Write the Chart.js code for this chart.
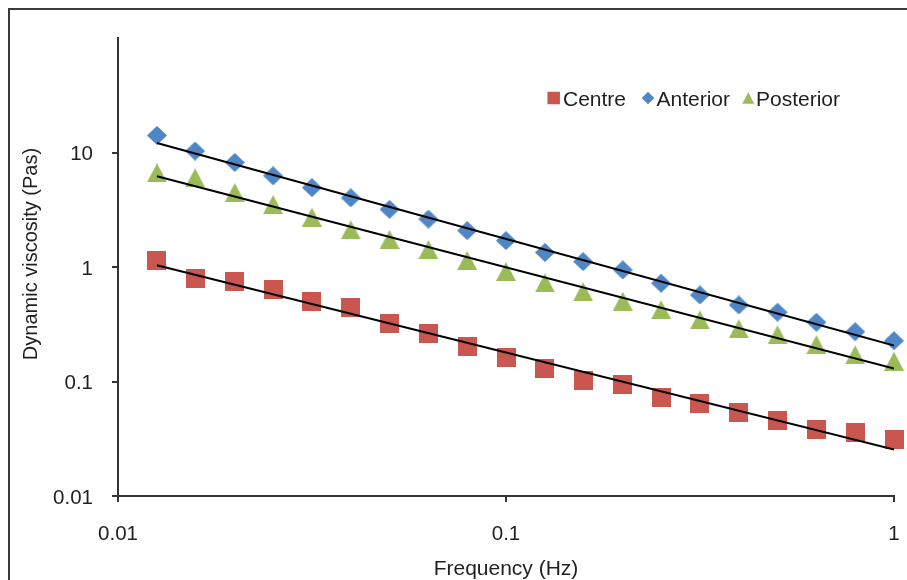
<!DOCTYPE html>
<html>
<head>
<meta charset="utf-8">
<script src="https://cdn.jsdelivr.net/npm/chart.js@4"></script>
<style>
  html, body { margin: 0; padding: 0; background: #fff; }
  canvas { display: block; }
</style>
</head>
<body>
<canvas id="viscosityChart" width="907" height="580"></canvas>
<script>
// ==============================
//  data
// ==============================
const frequency = [0.0126, 0.0158, 0.02, 0.0251, 0.0316, 0.0398, 0.0501, 0.0631, 0.0794, 0.1,
                   0.126, 0.158, 0.2, 0.251, 0.316, 0.398, 0.501, 0.631, 0.794, 1];
const centre    = [1.15, 0.80, 0.745, 0.63, 0.50, 0.44, 0.318, 0.264, 0.204, 0.161,
                   0.130, 0.103, 0.095, 0.073, 0.0645, 0.0534, 0.0461, 0.0382, 0.0357, 0.0314];
const anterior  = [14.1, 10.3, 8.18, 6.26, 4.94, 4.02, 3.19, 2.62, 2.08, 1.70,
                   1.34, 1.115, 0.943, 0.722, 0.570, 0.466, 0.403, 0.329, 0.272, 0.227];
const posterior = [6.65, 6.01, 4.47, 3.51, 2.72, 2.11, 1.74, 1.42, 1.14, 0.912,
                   0.726, 0.609, 0.502, 0.424, 0.345, 0.289, 0.256, 0.210, 0.171, 0.150];

const seriesNames = ["Centre", "Anterior", "Posterior"];
const xTicks = [0.01, 0.1, 1];
const yTicks = [0.01, 0.1, 1, 10];

const RED = "#C9564F";
const BLUE = "#4F86C6";
const GREEN = "#9BBB59";
const AXIS = "#333333";
const FONT = "'Liberation Sans', Arial, sans-serif";

// ==============================
//  helpers
// ==============================

// power-law fit (least squares in log-log), returns the two end points
const powerTrend = (xs, ys) => {
  const lx = xs.map(Math.log10), ly = ys.map(Math.log10);
  const n = lx.length;
  const mx = lx.reduce((a, b) => a + b, 0) / n;
  const my = ly.reduce((a, b) => a + b, 0) / n;
  let sxy = 0, sxx = 0;
  for (let i = 0; i < n; i++) {
    sxy += (lx[i] - mx) * (ly[i] - my);
    sxx += (lx[i] - mx) ** 2;
  }
  const b = sxy / sxx, a = my - b * mx;
  const ends = [xs[0], xs[n - 1]];
  return ends.map(x => ({ x, y: Math.pow(10, a + b * Math.log10(x)) }));
};

const toPoints = ys => frequency.map((x, i) => ({ x, y: ys[i] }));

// marker shapes
const shapePath = (g, shape, cx, cy, w, h) => {
  g.beginPath();
  if (shape === "square") {
    g.rect(cx - w / 2, cy - h / 2, w, h);
  } else if (shape === "diamond") {
    g.moveTo(cx, cy - h / 2);
    g.lineTo(cx + w / 2, cy);
    g.lineTo(cx, cy + h / 2);
    g.lineTo(cx - w / 2, cy);
    g.closePath();
  } else {
    g.moveTo(cx, cy - h / 2);
    g.lineTo(cx + w / 2, cy + h / 2);
    g.lineTo(cx - w / 2, cy + h / 2);
    g.closePath();
  }
};

const makeMarker = (shape, color, w, h) => {
  const c = document.createElement("canvas");
  c.width = w;
  c.height = h;
  const g = c.getContext("2d");
  g.fillStyle = color;
  shapePath(g, shape, w / 2, h / 2, w, h);
  g.fill();
  return c;
};

const markers = [
  makeMarker("square", RED, 19, 19),
  makeMarker("diamond", BLUE, 20, 19),
  makeMarker("triangle", GREEN, 20, 19)
];

// ==============================
//  frame, axis titles, legend
// ==============================
const decorations = {
  id: "decorations",
  beforeDraw(chart) {
    const ctx = chart.ctx;
    ctx.save();
    ctx.fillStyle = "#fff";
    ctx.fillRect(0, 0, chart.width, chart.height);
    ctx.strokeStyle = "#3a3a3a";
    ctx.lineWidth = 2;
    ctx.strokeRect(9, 9, chart.width + 20, chart.height + 20);
    ctx.restore();
  },
  afterDraw(chart) {
    const ctx = chart.ctx;
    const area = chart.chartArea;
    ctx.save();
    ctx.fillStyle = "#1f1f1f";

    // axis titles
    ctx.font = `21px ${FONT}`;
    ctx.textAlign = "center";
    ctx.textBaseline = "alphabetic";
    ctx.fillText("Frequency (Hz)", (area.left + area.right) / 2, 575);

    ctx.save();
    ctx.translate(31, 254);
    ctx.rotate(-Math.PI / 2);
    ctx.font = `20px ${FONT}`;
    ctx.textBaseline = "middle";
    ctx.fillText("Dynamic viscosity (Pas)", 0, 0);
    ctx.restore();

    // legend
    const items = [
      { shape: "square", color: RED, mx: 553.7, w: 12.5, h: 12.5, tx: 563 },
      { shape: "diamond", color: BLUE, mx: 648, w: 12.5, h: 12.5, tx: 656.5 },
      { shape: "triangle", color: GREEN, mx: 748.3, w: 12, h: 11.5, tx: 756 }
    ];
    ctx.font = `21px ${FONT}`;
    ctx.textAlign = "left";
    ctx.textBaseline = "alphabetic";
    items.forEach((it, i) => {
      ctx.fillStyle = it.color;
      shapePath(ctx, it.shape, it.mx, 98, it.w, it.h);
      ctx.fill();
      ctx.fillStyle = "#1f1f1f";
      ctx.fillText(seriesNames[i], it.tx, 105.5);
    });
    ctx.restore();
  }
};

// ==============================
//  chart
// ==============================
const axisBase = {
  type: "logarithmic",
  border: { display: true, color: AXIS, width: 2 },
  grid: { drawOnChartArea: false, drawTicks: true, tickLength: 6, color: AXIS, lineWidth: 2 },
  ticks: {
    color: "#1f1f1f",
    font: { family: FONT, size: 20.5 },
    autoSkip: false,
    maxRotation: 0,
    callback: v => String(v)
  }
};

new Chart(document.getElementById("viscosityChart"), {
  type: "scatter",
  data: {
    datasets: [
      // trendlines drawn over the markers
      { type: "line", data: powerTrend(frequency, centre), borderColor: "#000", borderWidth: 2, pointRadius: 0, order: 0 },
      { type: "line", data: powerTrend(frequency, anterior), borderColor: "#000", borderWidth: 2, pointRadius: 0, order: 0 },
      { type: "line", data: powerTrend(frequency, posterior), borderColor: "#000", borderWidth: 2, pointRadius: 0, order: 0 },

      { label: seriesNames[0], data: toPoints(centre), pointStyle: markers[0], order: 1, clip: false },
      { label: seriesNames[1], data: toPoints(anterior), pointStyle: markers[1], order: 1, clip: false },
      { label: seriesNames[2], data: toPoints(posterior), pointStyle: markers[2], order: 1, clip: false }
    ]
  },
  options: {
    responsive: false,
    animation: false,
    layout: { padding: { top: 38, right: 13, left: 0, bottom: 0 } },
    scales: {
      x: {
        ...axisBase,
        position: "bottom",
        min: 0.01,
        max: 1,
        ticks: { ...axisBase.ticks, padding: 20 },
        afterBuildTicks: scale => { scale.ticks = xTicks.map(value => ({ value })); },
        afterFit: scale => {
          scale.height = 84;
          scale.paddingLeft = 0;
          scale.paddingRight = 0;
        }
      },
      y: {
        ...axisBase,
        position: "left",
        min: 0.01,
        max: 100,
        ticks: { ...axisBase.ticks, padding: 19, labelOffset: 2 },
        afterBuildTicks: scale => { scale.ticks = yTicks.map(value => ({ value })); },
        afterFit: scale => {
          scale.width = 118;
          scale.paddingTop = 0;
          scale.paddingBottom = 0;
        }
      }
    },
    plugins: {
      legend: { display: false },
      tooltip: { enabled: false }
    }
  },
  plugins: [decorations]
});
</script>
</body>
</html>
